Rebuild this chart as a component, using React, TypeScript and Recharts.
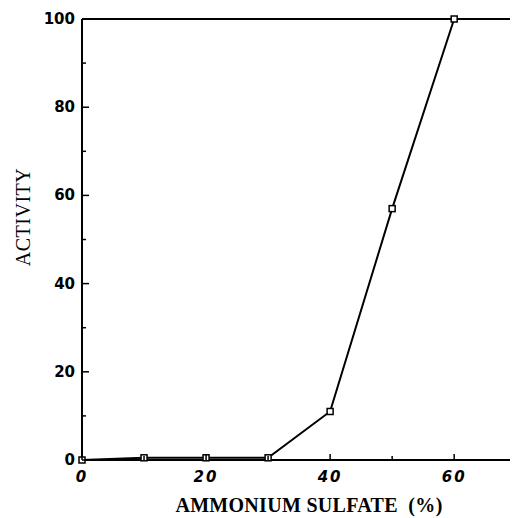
import { LineChart, Line, XAxis, YAxis, ReferenceLine } from "recharts";

const sulfate = [0, 10, 20, 30, 40, 50, 60];
const activity = [0, 0.5, 0.5, 0.5, 11, 57, 100];
const xTicks = [0, 10, 20, 30, 40, 50, 60];
const yTicks = [0, 10, 20, 30, 40, 50, 60, 70, 80, 90, 100];

const data = sulfate.map((s, i) => ({ s, a: activity[i] }));

const serif = "'Liberation Serif', 'DejaVu Serif', serif";
const sans = "'DejaVu Sans', sans-serif";

const XTick = (props: any) => {
  const { x, y, payload } = props;
  const major = payload.value % 20 === 0;
  return (
    <g>
      <line x1={x} y1={y} x2={x} y2={y - (major ? 6 : 4)} stroke="#000" strokeWidth={1.5} />
      {major && (
        <text
          x={x}
          y={y + 22}
          textAnchor="middle"
          style={{ fontFamily: sans, fontWeight: "bold", fontStyle: "italic", fontSize: 15, letterSpacing: 2 }}
          fill="#000"
        >
          {payload.value}
        </text>
      )}
    </g>
  );
};

const YTick = (props: any) => {
  const { x, y, payload } = props;
  const major = payload.value % 20 === 0;
  return (
    <g>
      <line x1={x} y1={y} x2={x + (major ? 7 : 4)} y2={y} stroke="#000" strokeWidth={1.5} />
      {major && (
        <text
          x={x - 7}
          y={y + 5}
          textAnchor="end"
          style={{ fontFamily: sans, fontWeight: "bold", fontSize: 15 }}
          fill="#000"
        >
          {payload.value}
        </text>
      )}
    </g>
  );
};

const SquareDot = (props: any) => {
  const { cx, cy } = props;
  return <rect x={cx - 3} y={cy - 3} width={6} height={6} fill="#fff" stroke="#000" strokeWidth={1.5} />;
};

const App = () => {
  return (
    <div style={{ position: "absolute", left: 0, top: 0, background: "#fff" }}>
      <LineChart width={512} height={518} data={data} margin={{ top: 19, right: 2, left: 0, bottom: 0 }}>
        <XAxis
          dataKey="s"
          type="number"
          domain={[0, 69]}
          ticks={xTicks}
          tick={<XTick />}
          tickLine={false}
          tickSize={0}
          tickMargin={0}
          height={58}
          axisLine={{ stroke: "#000", strokeWidth: 2 }}
        />
        <YAxis
          type="number"
          domain={[0, 100]}
          ticks={yTicks}
          tick={<YTick />}
          tickLine={false}
          tickSize={0}
          tickMargin={0}
          width={82}
          axisLine={{ stroke: "#000", strokeWidth: 2 }}
        />
        <ReferenceLine y={100} stroke="#000" strokeWidth={2} />
        <Line
          dataKey="a"
          stroke="#000"
          strokeWidth={2}
          dot={<SquareDot />}
          isAnimationActive={false}
        />
        <text
          x={23}
          y={217}
          transform="rotate(-90 23 217)"
          textAnchor="middle"
          dominantBaseline="central"
          style={{ fontFamily: serif, fontSize: 20, letterSpacing: 0.5 }}
          fill="#000"
        >
          ACTIVITY
        </text>
        <text
          x={309}
          y={512}
          textAnchor="middle"
          style={{ fontFamily: serif, fontSize: 20, fontWeight: "bold", letterSpacing: 0.3, whiteSpace: "pre" }}
          fill="#000"
        >
          AMMONIUM SULFATE  (%)
        </text>
      </LineChart>
    </div>
  );
};

export default App;
